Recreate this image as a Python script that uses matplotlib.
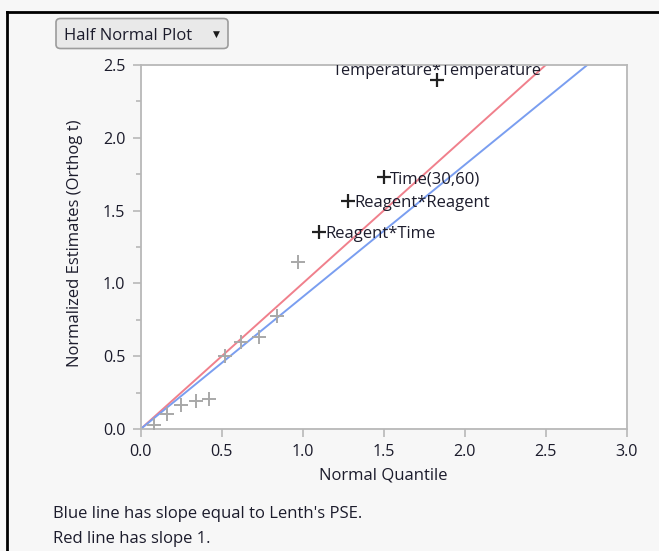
import matplotlib
matplotlib.use("Agg")
import matplotlib.pyplot as plt
from matplotlib.patches import FancyBboxPatch
from matplotlib.lines import Line2D
import numpy as np

# ---- data ----
gray_x = [0.08, 0.16, 0.25, 0.34, 0.42, 0.52, 0.62, 0.73, 0.84, 0.97]
gray_y = [0.03, 0.10, 0.165, 0.195, 0.205, 0.50, 0.60, 0.63, 0.775, 1.15]
labeled_names = ["Reagent*Time", "Reagent*Reagent", "Time(30,60)", "Temperature*Temperature"]
labeled_x = [1.10, 1.28, 1.50, 1.83]
labeled_y = [1.355, 1.565, 1.73, 2.40]
red_slope = 1.0
blue_slope = 0.907
xticks = [0.0, 0.5, 1.0, 1.5, 2.0, 2.5, 3.0]
yticks = [0.0, 0.5, 1.0, 1.5, 2.0, 2.5]

plt.rcParams['font.family'] = ['Open Sans', 'DejaVu Sans']
FS = 12
TXT = '#1c1c2c'
W, H = 659, 551
fig = plt.figure(figsize=(W / 100, H / 100), dpi=100)
fig.patch.set_facecolor('#f7f7f7')

ax = fig.add_axes([140.7 / W, 1 - 429 / H, (626.7 - 140.7) / W, (429 - 65) / H])
ax.set_facecolor('white')
ax.set_xlim(0, 3.0)
ax.set_ylim(0, 2.5)

xx = np.array([0, 3.0])
ax.plot(xx, red_slope * xx, color='#f0808c', lw=1.4, zorder=2)
ax.plot(xx, blue_slope * xx, color='#7a9ef0', lw=1.4, zorder=2)

ax.plot(gray_x, gray_y, linestyle='none', marker='+', color='#a8a8a8',
        markersize=10, markeredgewidth=1.4, zorder=3)
ax.plot(labeled_x, labeled_y, linestyle='none', marker='+', color='#222222',
        markersize=10, markeredgewidth=1.6, zorder=4)

for name, x, y in zip(labeled_names, labeled_x, labeled_y):
    if name.startswith("Temperature"):
        ax.annotate(name, (x, y), xytext=(0, 3.6), textcoords='offset points',
                    ha='center', va='baseline', fontsize=11.8, color=TXT,
                    annotation_clip=False, clip_on=True, zorder=5)
    else:
        ax.annotate(name, (x, y), xytext=(4.5, 0), textcoords='offset points',
                    ha='left', va='center_baseline', fontsize=FS, color=TXT, zorder=5)

for s in ax.spines.values():
    s.set_color('#b8b8b8')
    s.set_linewidth(1.3)

ax.set_xticks(xticks)
ax.set_yticks(yticks)
ax.set_xticklabels([f"{v:.1f}" for v in xticks])
ax.set_yticklabels([f"{v:.1f}" for v in yticks])
ax.set_yticks([0.25, 0.75, 1.25, 1.75, 2.25], minor=True)
ax.tick_params(axis='both', which='major', direction='out', length=6, width=1.2,
               color='#b8b8b8', labelsize=11.6, labelcolor=TXT, pad=5)
ax.tick_params(axis='y', which='minor', direction='out', length=3.5, width=1.2, color='#b8b8b8')

ax.set_xlabel("Normal Quantile", fontsize=FS, color=TXT, va='center')
ax.xaxis.set_label_coords(0.5, (429 - 475) / 364)
ax.set_ylabel("Normalized Estimates (Orthog t)", fontsize=FS, color=TXT, va='center')
ax.yaxis.set_label_coords((75 - 140.7) / 486, (429 - 243) / 364)

# dropdown button
btn = FancyBboxPatch((56 / W, 1 - 48.5 / H), (228 - 56) / W, (48.5 - 18.5) / H,
                     boxstyle="round,pad=0,rounding_size=0.007",
                     transform=fig.transFigure, facecolor='#e9e9e9',
                     edgecolor='#9c9c9c', linewidth=1.2)
fig.patches.append(btn)
fig.text(64 / W, 1 - 34 / H, "Half Normal Plot", fontsize=FS, color=TXT,
         ha='left', va='center_baseline')
fig.text(216 / W, 1 - 34 / H, "▼", fontsize=6.5, color='#1a1a1a', ha='center', va='center',
         family=['DejaVu Sans'])

# notes
fig.text(53 / W, 1 - 512 / H, "Blue line has slope equal to Lenth's PSE.", fontsize=FS,
         color=TXT, ha='left', va='center_baseline')
fig.text(53 / W, 1 - 537 / H, "Red line has slope 1.", fontsize=FS,
         color=TXT, ha='left', va='center_baseline')

# border lines
fig.add_artist(Line2D([7 / W, 1], [1 - 12 / H, 1 - 12 / H], transform=fig.transFigure,
                      color='black', lw=2))
fig.add_artist(Line2D([7 / W, 7 / W], [0, 1 - 12 / H], transform=fig.transFigure,
                      color='black', lw=2))

fig.savefig("out.png", dpi=100, facecolor=fig.get_facecolor())
